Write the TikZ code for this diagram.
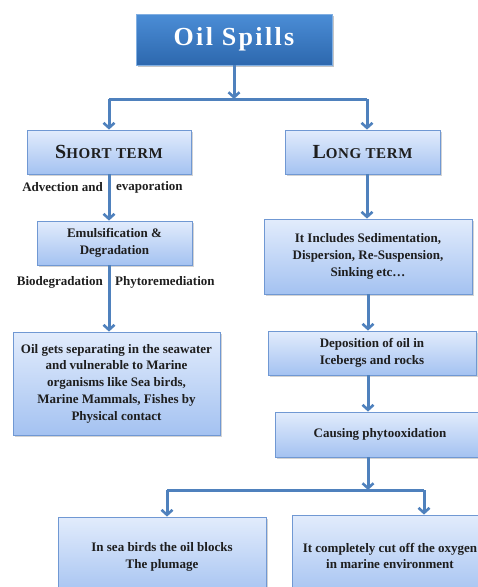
\documentclass[tikz,border=0pt]{standalone}
\usepackage{fontspec}
\setmainfont{Liberation Serif}
\newfontfamily\titlefont[LetterSpace=9]{Liberation Serif}
\newfontfamily\headfont[LetterSpace=4]{Liberation Serif}
\usetikzlibrary{arrows.meta, positioning, shadows}
\definecolor{linkBlue}{HTML}{4F81BD}
\definecolor{boxTop}{HTML}{E2ECFC}
\definecolor{boxBottom}{HTML}{A4C2F1}
\definecolor{boxEdge}{HTML}{7098D3}
\definecolor{titleTop}{HTML}{4B8DD6}
\definecolor{titleBottom}{HTML}{2D68AE}
\definecolor{textDark}{HTML}{1E1E1E}

\newcommand{\headtext}[2]{{\headfont\bfseries\fontsize{20}{22}\selectfont #1\fontsize{15}{22}\selectfont #2}}

\begin{document}
\begin{tikzpicture}[x=1pt, y=-1pt,
    box/.style={rectangle, draw=boxEdge, line width=0.8pt,
      top color=boxTop, bottom color=boxBottom,
      drop shadow={opacity=0.35, shadow xshift=1.5pt, shadow yshift=-1.5pt},
      font=\bfseries\fontsize{13}{16.7}\selectfont, align=center,
      text=textDark, inner sep=2pt},
    titlebox/.style={rectangle, draw=titleTop!70!white, line width=0.6pt,
      top color=titleTop, bottom color=titleBottom,
      drop shadow={opacity=0.45, shadow xshift=2pt, shadow yshift=-2pt},
      font=\titlefont\bfseries\fontsize{26}{30}\selectfont, text=white},
    lbl/.style={font=\bfseries\fontsize{13}{15}\selectfont, text=textDark, inner sep=1pt},
    line/.style={draw=linkBlue, line width=3pt},
    link/.style={line, -{Straight Barb[length=5pt, width=11pt, line width=2.6pt]}}
  ]
  \useasboundingbox (0,0) rectangle (478,587);

  % top
  \node[titlebox, minimum width=196pt, minimum height=51pt] (spill) at (234,39.5) {Oil Spills};
  \coordinate (tj) at (234,99);
  \coordinate (sj) at (109,99);
  \coordinate (lj) at (367,99);

  \node[box, minimum width=164pt, minimum height=44pt] (short) at (109,152) {\headtext{S}{HORT TERM}};
  \node[box, minimum width=155pt, minimum height=44pt] (long) at (362.5,152) {\headtext{L}{ONG TERM}};

  % short term side
  \node[box, minimum width=155pt, minimum height=44pt] (emul) at (114.5,243)
    {Emulsification \&\\Degradation};
  \node[box, minimum width=207pt, minimum height=103pt] (sep) at (116.5,383.5)
    {Oil gets separating in the seawater\\and vulnerable to Marine\\organisms like Sea birds,\\Marine Mammals, Fishes by\\Physical contact};
  \node[lbl, anchor=east] (adv) at (104,187) {Advection and};
  \node[lbl, anchor=west] (evap) at (115,187) {evaporation};
  \node[lbl, anchor=east] (bio) at (104,282) {Biodegradation};
  \node[lbl, anchor=west] (phyto) at (114,282) {Phytoremediation};

  % long term side
  \node[box, minimum width=208pt, minimum height=75pt] (incl) at (368,256.5)
    {It Includes Sedimentation,\\Dispersion, Re-Suspension,\\Sinking etc\ldots};
  \node[box, minimum width=208pt, minimum height=44pt] (depo) at (372,353)
    {Deposition of oil in\\Icebergs and rocks};
  \node[box, minimum width=210pt, minimum height=45pt] (cause) at (380,434.5)
    {Causing phytooxidation};
  \coordinate (bj) at (368,490);
  \coordinate (bl) at (167,490);
  \coordinate (br) at (424,490);
  \node[box, minimum width=208pt, minimum height=80pt] (birds) at (162,557)
    {In sea birds the oil blocks\\The plumage};
  \node[box, minimum width=196pt, minimum height=82pt] (oxy) at (390,556)
    {It completely cut off the oxygen\\in marine environment};

  % connectors
  \draw[link] (spill.south -| tj) -- (tj);
  \draw[line] (sj) -- (lj);
  \draw[link] (sj) -- (sj |- short.north);
  \draw[link] (lj) -- (lj |- long.north);
  \draw[link] (short.south) -- (short.south |- emul.north);
  \draw[link] (short |- emul.south) -- (short |- sep.north);
  \draw[link] (lj |- long.south) -- (lj |- incl.north);
  \draw[link] (incl.south) -- (incl.south |- depo.north);
  \draw[link] (incl |- depo.south) -- (incl |- cause.north);
  \draw[link] (incl |- cause.south) -- (bj);
  \draw[line] (bl) -- (br);
  \draw[link] (bl) -- (bl |- birds.north);
  \draw[link] (br) -- (br |- oxy.north);
\end{tikzpicture}
\end{document}
